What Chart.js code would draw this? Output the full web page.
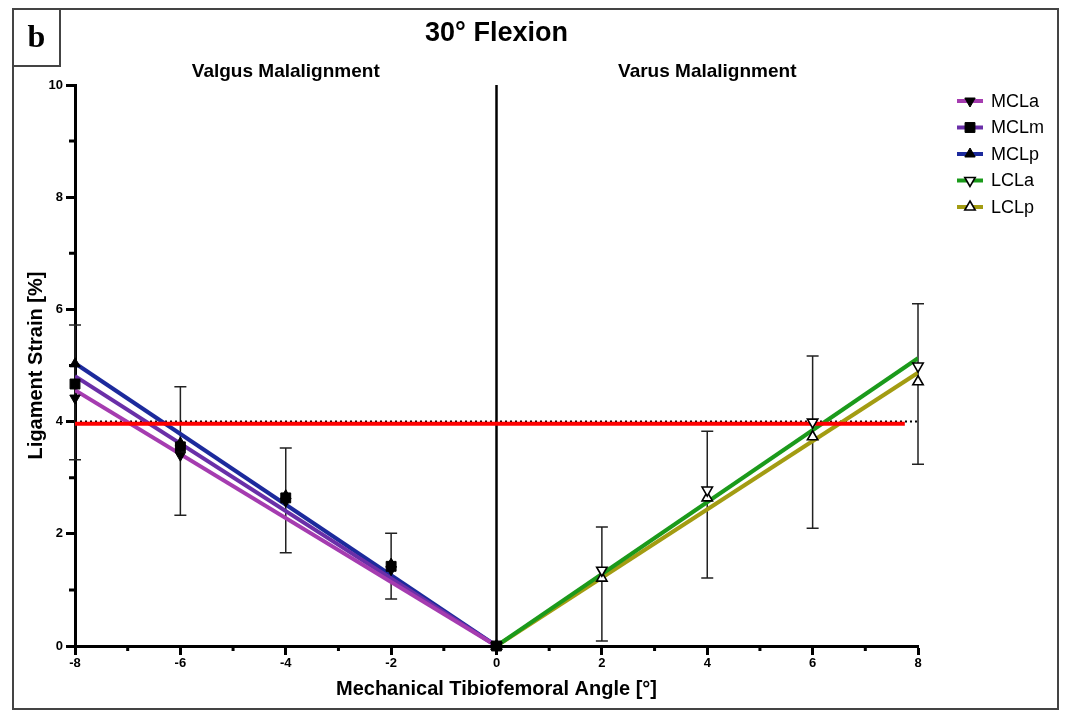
<!DOCTYPE html>
<html>
<head>
<meta charset="utf-8">
<script src="https://cdn.jsdelivr.net/npm/chart.js@4.4.1/dist/chart.umd.min.js"></script>
<style>
  html, body { margin: 0; padding: 0; background: #fff; }
  #wrap { width: 1067px; height: 711px; }
</style>
</head>
<body>
<div id="wrap"><canvas id="chart" width="1067" height="711"></canvas></div>
<script>
// valgus side (medial collateral ligament bundles)
const valgusAngles = [-8, -6, -4, -2, 0]
const mclaStrain = [4.42, 3.40, 2.58, 1.36, 0]
const mclmStrain = [4.67, 3.55, 2.64, 1.42, 0]
const mclpStrain = [5.03, 3.62, 2.68, 1.46, 0]

// varus side (lateral collateral ligament bundles)
const varusAngles = [0, 2, 4, 6, 8]
const lclaStrain = [0, 1.35, 2.78, 3.99, 4.99]
const lclpStrain = [0, 1.21, 2.64, 3.73, 4.71]

// fitted lines, value at each end
const valgusFitX = [-8, 0]
const varusFitX = [0, 8]
const mclaFit = [4.56, 0]
const mclmFit = [4.81, 0]
const mclpFit = [5.04, 0]
const lclaFit = [0, 5.13]
const lclpFit = [0, 4.87]

// error bars (one per angle)
const errAngles = [-8, -6, -4, -2, 2, 4, 6, 8]
const errLow = [3.32, 2.33, 1.66, 0.84, 0.09, 1.21, 2.10, 3.24]
const errHigh = [5.72, 4.62, 3.53, 2.01, 2.12, 3.83, 5.17, 6.10]

// reference levels
const thresholdX = [-8, 8]
const thresholdY = [4, 4]
const redX = [-8, 7.75]
const redY = [3.96, 3.96]
const centerX = [0, 0]
const centerY = [0, 10]

const colors = {
  MCLa: '#a53cb0',
  MCLm: '#6a2fa8',
  MCLp: '#1c2a9c',
  LCLa: '#1b9a1b',
  LCLp: '#a39c12'
}

const SANS = '"Liberation Sans", Arial, Helvetica, sans-serif'

const pts = (xs, ys) => xs.map((x, i) => ({x: x, y: ys[i]}))

// legend entries: [label, color, pointStyle, rotation, filled]
const legendItems = [
  ['MCLa', colors.MCLa, 'triangle', 180, true],
  ['MCLm', colors.MCLm, 'rect', 0, true],
  ['MCLp', colors.MCLp, 'triangle', 0, true],
  ['LCLa', colors.LCLa, 'triangle', 180, false],
  ['LCLp', colors.LCLp, 'triangle', 0, false]
]

function lineSet(label, data, color, width, order, dash) {
  return {
    type: 'line',
    label: label,
    data: data,
    showLine: true,
    borderColor: color,
    borderWidth: width,
    borderDash: dash || [],
    pointRadius: 0,
    fill: false,
    order: order
  }
}

function markerSet(label, data, style, rotation, filled, radius) {
  return {
    type: 'scatter',
    label: label,
    data: data,
    pointStyle: style,
    rotation: rotation,
    pointRadius: radius,
    backgroundColor: filled ? '#000' : '#fff',
    borderColor: '#000',
    borderWidth: filled ? 1 : 1.6,
    clip: false,
    order: 0
  }
}

// first dataset ends up on top
const datasets = [
  markerSet('MCLm', pts(valgusAngles, mclmStrain), 'rect', 0, true, 7),
  markerSet('MCLa', pts(valgusAngles, mclaStrain), 'triangle', 180, true, 6),
  markerSet('MCLp', pts(valgusAngles, mclpStrain), 'triangle', 0, true, 6),
  markerSet('LCLa', pts(varusAngles, lclaStrain), 'triangle', 180, false, 6),
  markerSet('LCLp', pts(varusAngles, lclpStrain), 'triangle', 0, false, 6),
  lineSet('red', pts(redX, redY), '#ff0000', 4, 1),
  lineSet('MCLa fit', pts(valgusFitX, mclaFit), colors.MCLa, 4, 2),
  lineSet('MCLm fit', pts(valgusFitX, mclmFit), colors.MCLm, 4, 2),
  lineSet('MCLp fit', pts(valgusFitX, mclpFit), colors.MCLp, 4, 2),
  lineSet('LCLa fit', pts(varusFitX, lclaFit), colors.LCLa, 4, 2),
  lineSet('LCLp fit', pts(varusFitX, lclpFit), colors.LCLp, 4, 2),
  lineSet('threshold', pts(thresholdX, thresholdY), '#000', 2, 3, [2, 3]),
  lineSet('zero', pts(centerX, centerY), '#000', 2.5, 4)
]

// error bars behind the lines and markers
const errorBars = {
  id: 'errorBars',
  beforeDatasetsDraw(chart) {
    const {ctx, scales: {x, y}} = chart
    ctx.save()
    ctx.strokeStyle = '#222'
    ctx.lineWidth = 1.5
    errAngles.forEach((a, i) => {
      const px = x.getPixelForValue(a)
      const lo = y.getPixelForValue(errLow[i])
      const hi = y.getPixelForValue(errHigh[i])
      ctx.beginPath()
      ctx.moveTo(px, lo)
      ctx.lineTo(px, hi)
      ctx.moveTo(px - 6, lo)
      ctx.lineTo(px + 6, lo)
      ctx.moveTo(px - 6, hi)
      ctx.lineTo(px + 6, hi)
      ctx.stroke()
    })
    ctx.restore()
  }
}

// short ticks on odd values
const minorTicks = {
  id: 'minorTicks',
  afterDraw(chart) {
    const {ctx, chartArea, scales: {x, y}} = chart
    ctx.save()
    ctx.strokeStyle = '#000'
    ctx.lineWidth = 3
    ctx.beginPath()
    for (let v = -7; v <= 7; v += 2) {
      const px = x.getPixelForValue(v)
      ctx.moveTo(px, chartArea.bottom)
      ctx.lineTo(px, chartArea.bottom + 5)
    }
    for (let v = 1; v <= 9; v += 2) {
      const py = y.getPixelForValue(v)
      ctx.moveTo(chartArea.left, py)
      ctx.lineTo(chartArea.left - 6, py)
    }
    ctx.stroke()
    ctx.restore()
  }
}

// frame, panel letter, titles and legend
const decor = {
  id: 'decor',
  afterDraw(chart) {
    const {ctx, chartArea, scales: {x}} = chart
    ctx.save()
    ctx.strokeStyle = '#444'
    ctx.lineWidth = 2
    ctx.strokeRect(13, 9, 1045, 700)
    ctx.strokeRect(13, 9, 47, 57)

    ctx.fillStyle = '#000'
    ctx.textAlign = 'center'
    ctx.textBaseline = 'alphabetic'
    ctx.font = 'bold 32px "Liberation Serif", "Times New Roman", serif'
    ctx.fillText('b', 36.5, 47)

    const mid = (chartArea.left + chartArea.right) / 2
    ctx.font = 'bold 27px ' + SANS
    ctx.fillText('30° Flexion', mid, 41)

    ctx.font = 'bold 19px ' + SANS
    ctx.fillText('Valgus Malalignment', x.getPixelForValue(-4), 77)
    ctx.fillText('Varus Malalignment', x.getPixelForValue(4), 77)

    ctx.textAlign = 'left'
    ctx.textBaseline = 'middle'
    ctx.font = '18px ' + SANS
    legendItems.forEach((item, i) => {
      const [label, color, style, rot, filled] = item
      const cy = 101 + i * 26.5
      ctx.strokeStyle = color
      ctx.lineWidth = 4
      ctx.beginPath()
      ctx.moveTo(957, cy)
      ctx.lineTo(983, cy)
      ctx.stroke()
      ctx.fillStyle = filled ? '#000' : '#fff'
      ctx.strokeStyle = '#000'
      ctx.lineWidth = filled ? 1 : 1.6
      Chart.helpers.drawPoint(ctx, {
        pointStyle: style,
        rotation: rot,
        radius: style === 'rect' ? 7 : 6,
        borderWidth: ctx.lineWidth
      }, 970, cy)
      ctx.fillStyle = '#000'
      ctx.fillText(label, 991, cy + 1)
    })
    ctx.restore()
  }
}

const tickFont = {family: SANS, size: 13, weight: 'bold'}

new Chart(document.getElementById('chart'), {
  type: 'scatter',
  data: {datasets: datasets},
  options: {
    responsive: false,
    animation: false,
    devicePixelRatio: 1,
    layout: {padding: {left: 15, right: 149, top: 85, bottom: 5}},
    plugins: {legend: {display: false}, tooltip: {enabled: false}},
    scales: {
      x: {
        type: 'linear',
        min: -8,
        max: 8,
        afterFit(scale) { scale.height = 60 },
        border: {color: '#000', width: 3},
        grid: {
          drawOnChartArea: false,
          drawTicks: true,
          tickLength: 9,
          tickWidth: 3,
          tickColor: (c) => (c.tick && Math.abs(c.tick.value) % 2 === 1) ? 'rgba(0,0,0,0)' : '#000'
        },
        ticks: {
          stepSize: 1,
          padding: 1,
          color: '#000',
          font: tickFont,
          maxRotation: 0,
          autoSkip: false,
          callback: (v) => (Math.abs(v) % 2 === 0 ? v : '')
        },
        title: {
          display: true,
          text: 'Mechanical Tibiofemoral Angle [°]',
          color: '#000',
          font: {family: SANS, size: 20, weight: 'bold'},
          padding: {top: 4, bottom: 5}
        }
      },
      y: {
        type: 'linear',
        min: 0,
        max: 10,
        afterFit(scale) { scale.width = 60 },
        border: {color: '#000', width: 3},
        grid: {
          drawOnChartArea: false,
          drawTicks: true,
          tickLength: 9,
          tickWidth: 3,
          tickColor: (c) => (c.tick && c.tick.value % 2 === 1) ? 'rgba(0,0,0,0)' : '#000'
        },
        ticks: {
          stepSize: 1,
          padding: 3,
          color: '#000',
          font: tickFont,
          autoSkip: false,
          callback: (v) => (v % 2 === 0 ? v : '')
        },
        title: {
          display: true,
          text: 'Ligament Strain [%]',
          color: '#000',
          font: {family: SANS, size: 20, weight: 'bold'},
          padding: {top: 9, bottom: 0}
        }
      }
    }
  },
  plugins: [errorBars, minorTicks, decor]
})
</script>
</body>
</html>
